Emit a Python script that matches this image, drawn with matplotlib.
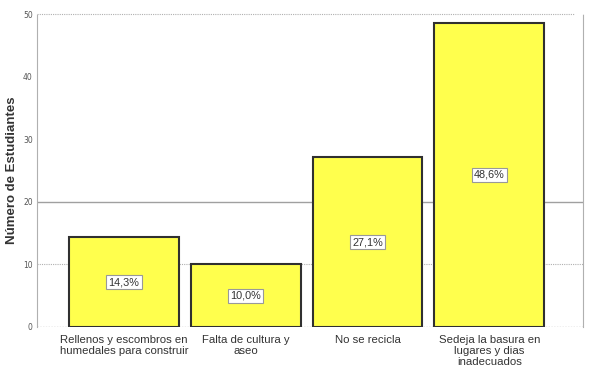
import numpy as np
import matplotlib.pyplot as plt

categories = ["Rellenos y escombros en\nhumedales para construir",
              "Falta de cultura y\naseo",
              "No se recicla",
              "Sedeja la basura en\nlugares y dias\ninadecuados"]
values = [14.3, 10.0, 27.1, 48.6]
labels = ["14,3%", "10,0%", "27,1%", "48,6%"]
yticks = [0, 10, 20, 30, 40, 50]

fig = plt.figure(figsize=(5.9, 3.79), dpi=100)
ax = fig.add_axes([37/590, 52/379, 546/590, 313/379])

x = np.arange(len(categories))
ax.set_xlim(-0.715, 3.77)
ax.set_ylim(0, 50)

# grid lines
ax.axhline(10, color="#b0b0b0", lw=0.8, ls=(0, (1, 1)), zorder=0)
ax.axhline(20, color="#a0a0a0", lw=1.0, zorder=0)
ax.plot([-0.715, 3.70], [50, 50], color="#b0b0b0", lw=0.8, ls=(0, (1, 1)), zorder=0, clip_on=False)

ax.bar(x, values, width=0.9, color="#ffff4d", edgecolor="#303030", linewidth=1.5, zorder=2)

for xi, v, lab in zip(x, values, labels):
    ax.text(xi, v / 2, lab, ha="center", va="center", fontsize=7.8, color="#333333", zorder=3,
            family="Liberation Sans",
            bbox=dict(boxstyle="square,pad=0.2", fc="white", ec="#999999", lw=0.8))

for s in ["top", "bottom"]:
    ax.spines[s].set_visible(False)
ax.spines["left"].set_color("#b0b0b0")
ax.spines["left"].set_linestyle((0, (1, 1)))
ax.spines["right"].set_color("#b0b0b0")
ax.spines["right"].set_linestyle((0, (1, 1)))
ax.axhline(0, color="#b0b0b0", lw=1.0, ls=(0, (1, 1)), zorder=1)

ax.set_yticks(yticks)
ax.set_yticklabels([str(t) for t in yticks], fontsize=5.5, color="#555555")
ax.tick_params(axis="y", length=0, pad=3)
ax.set_xticks(x)
ax.set_xticklabels(categories, fontsize=8.2, color="#333333", linespacing=1.1,
                   family="Liberation Sans")
ax.tick_params(axis="x", length=0, pad=6)

ax.set_ylabel("Número de Estudiantes", fontsize=9.5, fontweight="bold", color="#333333",
              family="Liberation Sans")
ax.yaxis.set_label_coords(-0.034, 0.5)

fig.savefig("out.png", dpi=100)
